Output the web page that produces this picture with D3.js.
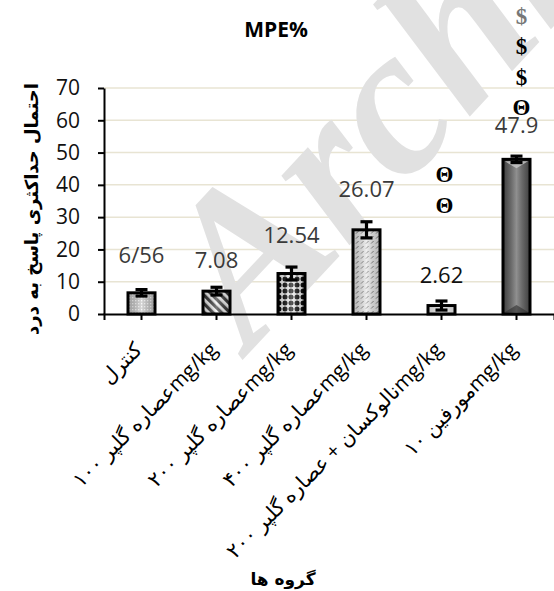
<!DOCTYPE html>
<html>
<head>
<meta charset="utf-8">
<script src="https://cdn.jsdelivr.net/npm/d3@7"></script>
<style>
  html, body { margin: 0; padding: 0; background: #fff; }
  svg { display: block; }
</style>
</head>
<body>
<svg id="chart" width="554" height="591"></svg>
<script>
// ---- data ----
const categories = [
  "کنترل",
  "عصاره گلپر ۱۰۰mg/kg",
  "عصاره گلپر ۲۰۰mg/kg",
  "عصاره گلپر ۴۰۰mg/kg",
  "نالوکسان + عصاره گلپر ۲۰۰mg/kg",
  "مورفین ۱۰mg/kg"
];
const values = [6.56, 7.08, 12.54, 26.07, 2.62, 47.9];
const errors = [1.0, 1.2, 2.0, 2.5, 1.4, 1.0];
const valueLabels = ["6/56", "7.08", "12.54", "26.07", "2.62", "47.9"];
const sigMarks = [[], [], [], [], ["Θ", "Θ"], ["Θ", "$", "$", "$"]];
const yTicks = [0, 10, 20, 30, 40, 50, 60, 70];
const chartTitle = "MPE%";
const yTitle = "احتمال حداکثری پاسخ به درد";
const xTitle = "گروه ها";

// ---- layout ----
const plotL = 104, plotR = 554, plotT = 88, plotB = 314;
const labelLift = [30, 23, 31, 33, 23, 26];   // label baseline above bar top (px)
const markLift = [0, 0, 0, 0, 70, 18];         // first mark baseline above label baseline (px)
const markShift = [0, 0, 0, 0, 3, 5];          // horizontal nudge of the marks (px)
const markStep = 30.5;

const svg = d3.select("#chart");
const defs = svg.append("defs");

const x = d3.scaleBand().domain(categories).range([plotL, plotR])
  .paddingInner(0.64).paddingOuter(0.32);
const y = d3.scaleLinear().domain([0, 70]).range([plotB, plotT]);
const bw = x.bandwidth();
const cxOf = i => x(categories[i]) + bw / 2;

// ---- fills ----
function pat(id, w, h, build, transform) {
  const p = defs.append("pattern").attr("id", id)
    .attr("patternUnits", "userSpaceOnUse").attr("width", w).attr("height", h);
  if (transform) p.attr("patternTransform", transform);
  build(p);
}
// fine stipple
pat("p0", 3, 3, p => {
  p.append("rect").attr("width", 3).attr("height", 3).attr("fill", "#c4c4c4");
  p.append("rect").attr("x", 0).attr("y", 0).attr("width", 1.3).attr("height", 1.3).attr("fill", "#f6f6f6");
});
// diagonal stripes
pat("p1", 6, 6, p => {
  p.append("rect").attr("width", 6).attr("height", 6).attr("fill", "#f2f2f2");
  p.append("rect").attr("width", 3.2).attr("height", 6).attr("fill", "#2e2e2e");
}, "rotate(-45)");
// dotted grid
pat("p2", 6, 6, p => {
  p.append("rect").attr("width", 6).attr("height", 6).attr("fill", "#f4f4f4");
  p.append("circle").attr("cx", 3).attr("cy", 3).attr("r", 2.5).attr("fill", "#000");
});
// small dashes
pat("p3", 5, 5, p => {
  p.append("rect").attr("width", 5).attr("height", 5).attr("fill", "#e6e6e6");
  p.append("line").attr("x1", 1).attr("y1", 3.6).attr("x2", 3.6).attr("y2", 1)
    .attr("stroke", "#6e6e6e").attr("stroke-width", 1);
});
// plain light
pat("p4", 4, 4, p => {
  p.append("rect").attr("width", 4).attr("height", 4).attr("fill", "#f3f3f3");
});
// dark gradient
const g5 = defs.append("linearGradient").attr("id", "p5").attr("x1", 0).attr("x2", 1).attr("y1", 0).attr("y2", 0);
g5.append("stop").attr("offset", "0%").attr("stop-color", "#3e3e3e");
g5.append("stop").attr("offset", "30%").attr("stop-color", "#6a6a6a");
g5.append("stop").attr("offset", "50%").attr("stop-color", "#8f8f8f");
g5.append("stop").attr("offset", "70%").attr("stop-color", "#6a6a6a");
g5.append("stop").attr("offset", "100%").attr("stop-color", "#3e3e3e");
// cylinder shading overlay
const sh = defs.append("linearGradient").attr("id", "shade").attr("x1", 0).attr("x2", 1).attr("y1", 0).attr("y2", 0);
sh.append("stop").attr("offset", "0%").attr("stop-color", "#000").attr("stop-opacity", 0.18);
sh.append("stop").attr("offset", "50%").attr("stop-color", "#fff").attr("stop-opacity", 0.35);
sh.append("stop").attr("offset", "100%").attr("stop-color", "#000").attr("stop-opacity", 0.18);

// ---- gridlines ----
svg.append("g").selectAll("line").data(yTicks.filter(d => d > 0)).join("line")
  .attr("x1", plotL).attr("x2", plotR)
  .attr("y1", d => y(d)).attr("y2", d => y(d))
  .attr("stroke", "#e8e4d3").attr("stroke-width", 1.5);

// ---- watermark ----
svg.append("text")
  .attr("transform", "translate(250,352) rotate(-47)")
  .attr("font-family", "Liberation Serif, serif")
  .attr("font-style", "italic").attr("font-weight", "bold")
  .attr("font-size", 212).attr("fill", "#e1e1e1")
  .text("Archive");

// ---- bars ----
const bars = svg.append("g");
bars.selectAll("rect.bar").data(values).join("rect").attr("class", "bar")
  .attr("x", (d, i) => x(categories[i])).attr("width", bw)
  .attr("y", d => y(d)).attr("height", d => y(0) - y(d))
  .attr("fill", (d, i) => `url(#p${i})`);
bars.selectAll("rect.shade").data(values).join("rect").attr("class", "shade")
  .attr("x", (d, i) => x(categories[i])).attr("width", bw)
  .attr("y", d => y(d)).attr("height", d => y(0) - y(d))
  .attr("fill", (d, i) => i === 5 ? "none" : "url(#shade)");
// bevel highlights on the dark bar
values.forEach((v, i) => {
  if (i !== 5) return;
  const x0 = x(categories[i]), t = y(v), b = y(0);
  bars.append("path")
    .attr("d", `M${x0 + 2},${t + 2}L${x0 + bw - 2},${t + 2}L${x0 + bw / 2},${t + 9}Z`)
    .attr("fill", "#c8c8c8").attr("opacity", 0.8);
  bars.append("path")
    .attr("d", `M${x0 + 2},${b - 2}L${x0 + bw - 2},${b - 2}L${x0 + bw / 2},${b - 9}Z`)
    .attr("fill", "#2e2e2e").attr("opacity", 0.6);
});
bars.selectAll("rect.edge").data(values).join("rect").attr("class", "edge")
  .attr("x", (d, i) => x(categories[i])).attr("width", bw)
  .attr("y", d => y(d)).attr("height", d => y(0) - y(d))
  .attr("fill", "none").attr("stroke", "#000").attr("stroke-width", 3);

// ---- error bars ----
const eb = svg.append("g").attr("stroke", "#000").attr("stroke-width", 3.2);
values.forEach((v, i) => {
  const cx = cxOf(i);
  const hi = y(v + errors[i]), lo = y(v - errors[i]);
  eb.append("line").attr("x1", cx).attr("x2", cx).attr("y1", hi).attr("y2", lo);
  eb.append("line").attr("x1", cx - 6).attr("x2", cx + 6).attr("y1", hi).attr("y2", hi);
  eb.append("line").attr("x1", cx - 6).attr("x2", cx + 6).attr("y1", lo).attr("y2", lo);
});

// ---- axes ----
const yAxis = svg.append("g").attr("transform", `translate(${plotL},0)`)
  .call(d3.axisLeft(y).tickValues(yTicks).tickSize(6).tickPadding(18).tickSizeOuter(0));
yAxis.select(".domain").attr("stroke", "#000").attr("stroke-width", 2);
yAxis.selectAll(".tick line").attr("stroke", "#000").attr("stroke-width", 2);
yAxis.selectAll(".tick text").attr("font-family", "Open Sans, sans-serif")
  .attr("font-size", 21).attr("fill", "#111");

const xAxis = svg.append("g").attr("transform", `translate(0,${plotB})`)
  .call(d3.axisBottom(x).tickSize(6).tickSizeOuter(6).tickFormat(""));
xAxis.select(".domain").attr("stroke", "#000").attr("stroke-width", 2);
xAxis.selectAll(".tick line").attr("stroke", "#000").attr("stroke-width", 2);

// rotated category labels
svg.append("g").selectAll("text").data(categories).join("text")
  .attr("transform", d => `translate(${x(d) + bw / 2 + 2},${plotB + 37}) rotate(-45)`)
  .attr("text-anchor", "end")
  .attr("font-family", "Open Sans, DejaVu Sans, sans-serif")
  .attr("font-size", 20.5).attr("fill", "#000")
  .text(d => d);

// ---- value labels ----
svg.append("g").selectAll("text").data(values).join("text")
  .attr("x", (d, i) => cxOf(i))
  .attr("y", (d, i) => y(d) - labelLift[i])
  .attr("text-anchor", "middle")
  .attr("font-family", "Open Sans, sans-serif").attr("font-size", 22)
  .attr("fill", (d, i) => i === 4 ? "#111" : "#3a3a3a")
  .text((d, i) => valueLabels[i]);

// ---- significance marks ----
const mk = svg.append("g");
sigMarks.forEach((marks, i) => {
  const base = y(values[i]) - labelLift[i] - markLift[i];
  marks.forEach((m, j) => {
    mk.append("text").attr("x", cxOf(i) + markShift[i]).attr("y", base - j * markStep)
      .attr("text-anchor", "middle")
      .attr("font-family", "Liberation Serif, serif").attr("font-weight", "bold")
      .attr("font-size", 23)
      .attr("fill", (i === 5 && j === marks.length - 1) ? "#777" : "#000")
      .text(m);
  });
});

// ---- titles ----
svg.append("text").attr("x", 276).attr("y", 37).attr("text-anchor", "middle")
  .attr("font-family", "Open Sans, sans-serif").attr("font-weight", "bold")
  .attr("font-size", 21).attr("fill", "#000").text(chartTitle);

svg.append("text").attr("transform", `translate(38,${(plotT + plotB) / 2 + 8}) rotate(-90)`)
  .attr("text-anchor", "middle")
  .attr("font-family", "DejaVu Sans, sans-serif").attr("font-weight", "bold")
  .attr("font-size", 18).attr("fill", "#000").text(yTitle);

svg.append("text").attr("x", 283).attr("y", 585).attr("text-anchor", "middle")
  .attr("font-family", "DejaVu Sans, sans-serif").attr("font-weight", "bold")
  .attr("font-size", 17).attr("fill", "#000").text(xTitle);
</script>
</body>
</html>
